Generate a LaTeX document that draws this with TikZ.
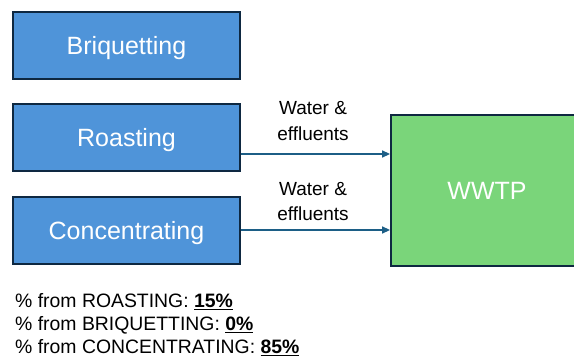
\documentclass[tikz,border=0pt]{standalone}
\usepackage{fontspec}
\setmainfont{Liberation Sans}
\usetikzlibrary{arrows.meta}
\definecolor{procblue}{RGB}{79,148,217}
\definecolor{plantgreen}{RGB}{122,213,122}
\definecolor{edgenavy}{RGB}{14,40,65}
\definecolor{flowblue}{RGB}{28,94,134}
\begin{document}
\begin{tikzpicture}[x=1pt,y=-1pt,
  procbox/.style={draw=edgenavy, line width=1.8pt, fill=procblue, text=white,
    minimum width=227pt, minimum height=67pt, inner sep=0pt,
    text height=18pt, text depth=0pt,
    font=\fontsize{25}{30}\selectfont},
  plantbox/.style={draw=edgenavy, line width=1.8pt, fill=plantgreen, text=white,
    minimum width=192pt, minimum height=151pt, inner sep=0pt,
    text height=18pt, text depth=0pt,
    font=\fontsize{25}{30}\selectfont},
  flow/.style={draw=flowblue, line width=1.3pt,
    -{Triangle[length=8pt,width=7pt]}},
  flowlabel/.style={anchor=base, inner sep=0pt, font=\fontsize{19}{23}\selectfont},
  share/.style={anchor=base west, inner sep=0pt, font=\fontsize{19.4}{23}\selectfont}]
  \useasboundingbox (0,0) rectangle (574,358);
  \clip (0,0) rectangle (574,358);

  % process steps
  \node[procbox] (briq)  at (126.5,45.5)  {Briquetting};
  \node[procbox] (roast) at (126.5,137.5) {Roasting};
  \node[procbox] (conc)  at (126.5,230.5) {Concentrating};

  % treatment plant, running past the right edge
  \node[plantbox] (wwtp) at (487,190.5) {WWTP};

  % effluent flows
  \path (roast.east) ++(0,16.5) coordinate (rout);
  \path (conc.east) ++(0,-0.5) coordinate (cout);
  \draw[flow] (rout) -- (rout -| wwtp.west);
  \draw[flow] (cout) -- (cout -| wwtp.west);

  \node[flowlabel] (l1a) at (313,115)   {Water \&};
  \node[flowlabel] (l1b) at (313,141)   {effluents};
  \node[flowlabel] (l2a) at (313,196)   {Water \&};
  \node[flowlabel] (l2b) at (313,220.7) {effluents};

  % shares of the effluent load
  \node[share] (s1) at (15,307.3) {\% from ROASTING: \textbf{\underline{15\%}}};
  \node[share] (s2) at (15,330.5) {\% from BRIQUETTING: \textbf{\underline{0\%}}};
  \node[share] (s3) at (15,353.3) {\% from CONCENTRATING: \textbf{\underline{85\%}}};
\end{tikzpicture}
\end{document}
